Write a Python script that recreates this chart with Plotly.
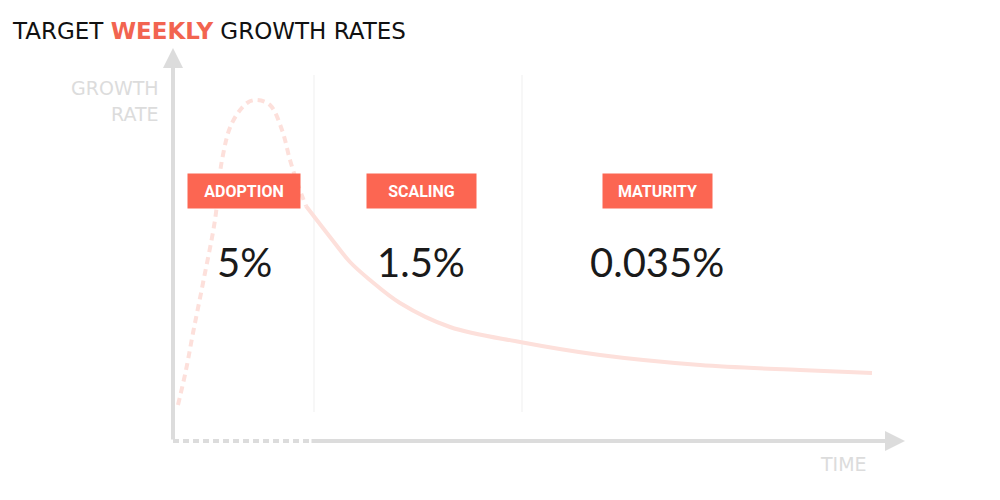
import plotly.graph_objects as go

# --- Données (unités arbitraires : temps / taux de croissance) ---
adoption_time = [5, 13, 20, 30, 42, 49, 59, 74, 84, 97, 109, 117, 125, 133]
adoption_rate = [35, 70, 107, 157, 220, 280, 317, 337, 340, 335, 310, 280, 255, 234]

decline_time = [133, 157, 177, 197, 227, 277, 347, 427, 527, 627, 699]
decline_rate = [234, 203, 178, 160, 137, 113, 98, 85, 75, 70, 67]

phase_names = ["ADOPTION", "SCALING", "MATURITY"]
phase_rates = ["5%", "1.5%", "0.035%"]
phase_centers = [71, 248, 484]
phase_widths = [112, 109, 109]
phase_bounds = [141, 349]

AXIS = "#dcdcdc"
CURVE = "#fde0db"
RED = "#fc6652"

fig = go.Figure()

# séparateurs verticaux
for xb in phase_bounds:
    fig.add_trace(go.Scatter(x=[xb, xb], y=[28, 365], mode="lines",
                             line=dict(color="#efefef", width=1), hoverinfo="skip"))

# courbe : montée (pointillés) puis décroissance (continue)
fig.add_trace(go.Scatter(x=adoption_time, y=adoption_rate, mode="lines",
                         line=dict(color=CURVE, width=4, dash="7px,5px", shape="spline"),
                         hoverinfo="skip"))
fig.add_trace(go.Scatter(x=decline_time, y=decline_rate, mode="lines",
                         line=dict(color=CURVE, width=4, shape="spline"),
                         hoverinfo="skip"))

# axes
fig.add_trace(go.Scatter(x=[0, 137], y=[-1, -1], mode="lines",
                         line=dict(color=AXIS, width=4, dash="6px,4px"), hoverinfo="skip"))
fig.add_annotation(x=0, y=392, ax=0, ay=-1, xref="x", yref="y", axref="x", ayref="y",
                   text="", showarrow=True, arrowhead=2, arrowsize=1, arrowwidth=4,
                   arrowcolor=AXIS, standoff=0)
fig.add_annotation(x=732, y=-1, ax=137, ay=-1, xref="x", yref="y", axref="x", ayref="y",
                   text="", showarrow=True, arrowhead=2, arrowsize=1, arrowwidth=4,
                   arrowcolor=AXIS, standoff=0)

# libellés des axes
lab_font = dict(family="DejaVu Sans", size=19, color=AXIS)
fig.add_annotation(x=-12, y=352, text="GROWTH", showarrow=False, xanchor="right", font=lab_font)
fig.add_annotation(x=-12, y=326, text="RATE", showarrow=False, xanchor="right", font=lab_font)
fig.add_annotation(x=670, y=-24, text="TIME", showarrow=False, font=lab_font)

# phases
for name, rate, xc, w in zip(phase_names, phase_rates, phase_centers, phase_widths):
    fig.add_annotation(x=xc, y=249, text=f"<b>{name}</b>", showarrow=False,
                       bgcolor=RED, width=w, height=34, borderpad=0,
                       font=dict(family="Roboto", size=16, color="white"))
    fig.add_annotation(x=xc, y=178, text=rate, showarrow=False,
                       font=dict(family="Lato", size=40, color="#1a1a1a"))

# titre
fig.add_annotation(xref="paper", yref="paper", x=0.002, y=1 - 23 / 500,
                   xanchor="left", yanchor="middle", showarrow=False,
                   text="TARGET <span style='color:#f26450'><b>WEEKLY</b></span> GROWTH RATES",
                   font=dict(family="DejaVu Sans", size=23, color="#111111"))

fig.update_layout(
    width=1000, height=500,
    margin=dict(l=0, r=0, t=0, b=0),
    paper_bgcolor="white", plot_bgcolor="white",
    showlegend=False,
    xaxis=dict(range=[-165, 835], visible=False, fixedrange=True),
    yaxis=dict(range=[-68, 432], visible=False, fixedrange=True),
)

fig.write_html("out.html")
